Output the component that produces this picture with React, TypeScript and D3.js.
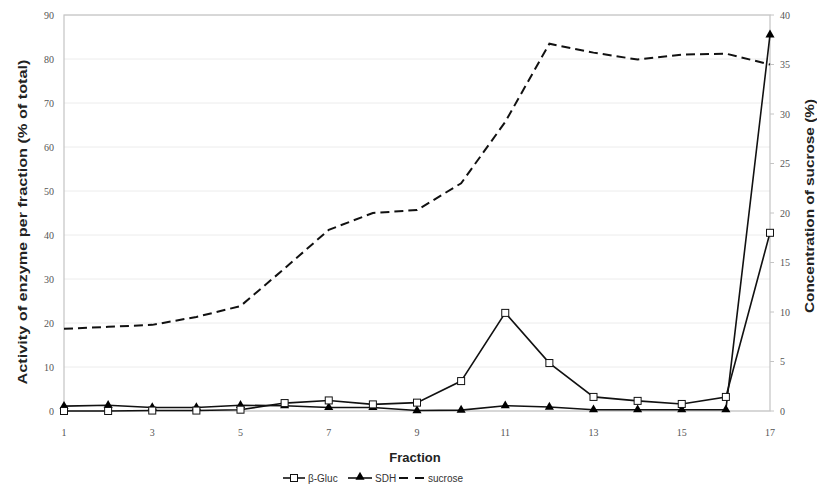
import React from "react";
import * as d3 from "d3";

const fractions = [1, 2, 3, 4, 5, 6, 7, 8, 9, 10, 11, 12, 13, 14, 15, 16, 17];
const glucValues = [0, 0, 0.1, 0.1, 0.3, 1.8, 2.4, 1.5, 1.9, 6.8, 22.3, 10.9, 3.2, 2.3, 1.6, 3.2, 40.5];
const sdhValues = [1.1, 1.3, 0.8, 0.8, 1.3, 1.2, 0.8, 0.8, 0.1, 0.2, 1.2, 0.9, 0.3, 0.3, 0.3, 0.3, 85.5];
const sucroseValues = [8.3, 8.5, 8.7, 9.5, 10.6, 14.4, 18.3, 20.0, 20.3, 23.0, 29.2, 37.1, 36.2, 35.5, 36.0, 36.1, 35.0];
const xTicks = [1, 3, 5, 7, 9, 11, 13, 15, 17];
const leftTicks = [0, 10, 20, 30, 40, 50, 60, 70, 80, 90];
const rightTicks = [0, 5, 10, 15, 20, 25, 30, 35, 40];

const W = 817;
const H = 493;
const L = 64, R = 770, T = 15, B = 411;

export default function App() {
  const x = d3.scaleLinear().domain([1, 17]).range([L, R]);
  const yL = d3.scaleLinear().domain([0, 90]).range([B, T]);
  const yR = d3.scaleLinear().domain([0, 40]).range([B, T]);

  const lineL = d3.line<number>().x((_, i) => x(fractions[i])).y((d) => yL(d));
  const lineR = d3.line<number>().x((_, i) => x(fractions[i])).y((d) => yR(d));
  const tri = d3.symbol().type(d3.symbolTriangle).size(36)();

  const tickFont = "'Liberation Serif', serif";
  const sans = "'Liberation Sans', Arial, sans-serif";

  return (
    <svg width={W} height={H} style={{ position: "absolute", left: 0, top: 0, background: "#fff" }}>
      {leftTicks.map((t) => (
        <line key={"g" + t} x1={L} x2={R} y1={yL(t)} y2={yL(t)} stroke="#ececec" strokeWidth={1} />
      ))}
      <rect x={L} y={T} width={R - L} height={B - T} fill="none" stroke="#c4c4c4" strokeWidth={1.2} />
      {rightTicks.map((t) => (
        <line key={"rt" + t} x1={R} x2={R + 4} y1={yR(t)} y2={yR(t)} stroke="#c4c4c4" />
      ))}
      {leftTicks.map((t) => (
        <text key={"lt" + t} x={L - 10} y={yL(t)} dy="0.35em" textAnchor="end" fontFamily={tickFont} fontSize={10} fill="#555">
          {t}
        </text>
      ))}
      {rightTicks.map((t) => (
        <text key={"rl" + t} x={R + 10} y={yR(t)} dy="0.35em" textAnchor="start" fontFamily={tickFont} fontSize={10} fill="#555">
          {t}
        </text>
      ))}
      {xTicks.map((t) => (
        <text key={"xt" + t} x={x(t)} y={432} dy="0.35em" textAnchor="middle" fontFamily={tickFont} fontSize={10} fill="#555">
          {t}
        </text>
      ))}
      <text
        transform="translate(22,222) rotate(-90)"
        textAnchor="middle"
        dominantBaseline="central"
        fontFamily={sans}
        fontWeight="bold"
        fontSize={13}
        textLength={325}
        lengthAdjust="spacingAndGlyphs"
        fill="#222"
      >
        Activity of enzyme per fraction (% of total)
      </text>
      <text
        transform="translate(809,206) rotate(-90)"
        textAnchor="middle"
        dominantBaseline="central"
        fontFamily={sans}
        fontWeight="bold"
        fontSize={13}
        textLength={214}
        lengthAdjust="spacingAndGlyphs"
        fill="#222"
      >
        Concentration of sucrose (%)
      </text>
      <text x={415} y={457} textAnchor="middle" dominantBaseline="central" fontFamily={sans} fontWeight="bold" fontSize={13} fill="#222">
        Fraction
      </text>

      <path d={lineR(sucroseValues) || ""} fill="none" stroke="#111" strokeWidth={2} strokeDasharray="9,5" />
      <path d={lineL(glucValues) || ""} fill="none" stroke="#111" strokeWidth={1.6} />
      <path d={lineL(sdhValues) || ""} fill="none" stroke="#111" strokeWidth={1.6} />
      {sdhValues.map((v, i) => (
        <path key={"s" + i} d={tri || ""} transform={`translate(${x(fractions[i])},${yL(v)})`} fill="#000" />
      ))}
      {glucValues.map((v, i) => (
        <rect key={"q" + i} x={x(fractions[i]) - 3.5} y={yL(v) - 3.5} width={7} height={7} fill="#fff" stroke="#111" strokeWidth={1} />
      ))}

      <g fontFamily={sans} fontSize={10} fill="#333">
        <line x1={283} x2={305} y1={478} y2={478} stroke="#111" strokeWidth={1.6} />
        <rect x={290.5} y={474.5} width={7} height={7} fill="#fff" stroke="#111" />
        <text x={308} y={478} dy="0.35em">β-Gluc</text>
        <line x1={348} x2={372} y1={478} y2={478} stroke="#111" strokeWidth={1.6} />
        <path d={tri || ""} transform="translate(360,477)" fill="#000" />
        <text x={375} y={478} dy="0.35em">SDH</text>
        <line x1={399} x2={426} y1={478} y2={478} stroke="#111" strokeWidth={2} strokeDasharray="9,7" />
        <text x={428} y={478} dy="0.35em">sucrose</text>
      </g>
    </svg>
  );
}
